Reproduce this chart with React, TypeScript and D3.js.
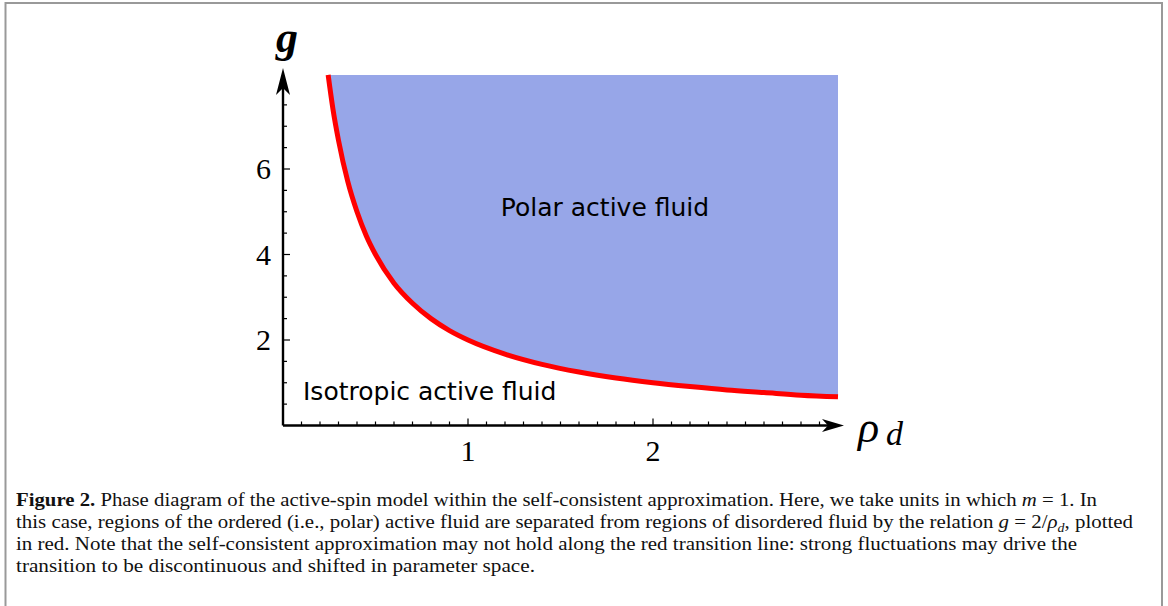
import React from "react";
import * as d3 from "d3";

const rhoValues = [0.244, 0.27, 0.3, 0.35, 0.4, 0.45, 0.5, 0.6, 0.7, 0.8, 0.9, 1.0, 1.2, 1.4, 1.6, 1.8, 2.0, 2.2, 2.4, 2.6, 2.8, 3.0];
const gValues = [8.2, 7.4, 6.67, 5.71, 5.0, 4.44, 4.0, 3.33, 2.86, 2.5, 2.22, 2.0, 1.67, 1.43, 1.25, 1.11, 1.0, 0.91, 0.83, 0.77, 0.71, 0.67];
const xTickLabels = [1, 2];
const yTickLabels = [2, 4, 6];
const gTop = 8.2;
const captionLines = [
  ["Figure 2.", " Phase diagram of the active-spin model within the self-consistent approximation. Here, we take units in which ", "m", " = 1. In"],
  ["", "this case, regions of the ordered (i.e., polar) active fluid are separated from regions of disordered fluid by the relation ", "g", " = 2/", "ρ", "d", ", plotted"],
  ["", "in red. Note that the self-consistent approximation may not hold along the red transition line: strong fluctuations may drive the"],
  ["", "transition to be discontinuous and shifted in parameter space."],
];

export default function App() {
  const x = d3.scaleLinear().domain([0, 1]).range([283, 468]);
  const y = d3.scaleLinear().domain([0, 2]).range([425.5, 340]);
  const pts = rhoValues.map((r, i) => [r, gValues[i]] as [number, number]);
  const line = d3.line<[number, number]>().x(d => x(d[0])).y(d => y(d[1])).curve(d3.curveMonotoneX);
  const area = d3.area<[number, number]>().x(d => x(d[0])).y0(y(gTop)).y1(d => y(d[1])).curve(d3.curveMonotoneX);
  const xMinor = d3.range(1, 30).map(i => i / 10);
  const yMinor = d3.range(1, 16).map(i => i / 2);
  const x0 = x(0), y0 = y(0);
  const serif = "'Liberation Serif', 'DejaVu Serif', serif";
  const sans = "'DejaVu Sans', Verdana, sans-serif";
  return (
    <svg width={1168} height={606} style={{ position: "absolute", left: 0, top: 0, background: "#fff" }}>
      <path d="M5.5,606 L5.5,3 L1162,3 L1162,606" fill="none" stroke="#999" strokeWidth={2} />
      <path d={area(pts) || ""} fill="#97a6e8" />
      {/* axes */}
      <line x1={x0} y1={y0} x2={x0} y2={80} stroke="#000" strokeWidth={2.4} />
      <line x1={x0} y1={y0} x2={832} y2={y0} stroke="#000" strokeWidth={2.4} />
      <path d={`M${x0},68 L${x0 + 7},95 L${x0},88 L${x0 - 7},95 Z`} fill="#000" />
      <path d={`M844,${y0} L822,${y0 - 6.5} L828,${y0} L822,${y0 + 6.5} Z`} fill="#000" />
      {xMinor.map(v => (
        <line key={"xm" + v} x1={x(v)} x2={x(v)} y1={y0} y2={y0 - (Math.abs(v - Math.round(v)) < 1e-6 ? 7 : 4)} stroke="#000" strokeWidth={1.2} />
      ))}
      {yMinor.map(v => (
        <line key={"ym" + v} y1={y(v)} y2={y(v)} x1={x0} x2={x0 + (v % 2 === 0 ? 7 : 4)} stroke="#000" strokeWidth={1.2} />
      ))}
      {xTickLabels.map(v => (
        <text key={"xl" + v} x={x(v)} y={461} textAnchor="middle" fontFamily={serif} fontSize={30}>{v}</text>
      ))}
      {yTickLabels.map(v => (
        <text key={"yl" + v} x={271} y={y(v) + 10} textAnchor="end" fontFamily={serif} fontSize={30}>{v}</text>
      ))}
      <path d={line(pts) || ""} fill="none" stroke="#ff0000" strokeWidth={5} />
      <text x={287} y={52} textAnchor="middle" fontFamily={serif} fontStyle="italic" fontWeight="bold" fontSize={44}>g</text>
      <text x={858} y={442} fontFamily={serif} fontStyle="italic" fontSize={44}>ρ</text>
      <text x={886} y={445} fontFamily={serif} fontStyle="italic" fontSize={34}>d</text>
      <text x={605} y={216} textAnchor="middle" fontFamily={sans} fontSize={25}>Polar active fluid</text>
      <text x={303} y={400} fontFamily={sans} fontSize={25}>Isotropic active fluid</text>
      <g fontFamily={serif} fontSize={19.5} fill="#111">
        <text x={16} y={506} textLength={1081} lengthAdjust="spacingAndGlyphs">
          <tspan fontWeight="bold">Figure 2.</tspan>
          <tspan>{captionLines[0][1]}</tspan>
          <tspan fontStyle="italic">m</tspan>
          <tspan>{captionLines[0][3]}</tspan>
        </text>
        <text x={16} y={528} textLength={1117} lengthAdjust="spacingAndGlyphs">
          <tspan>{captionLines[1][1]}</tspan>
          <tspan fontStyle="italic">g</tspan>
          <tspan>{captionLines[1][3]}</tspan>
          <tspan fontStyle="italic">ρ</tspan>
          <tspan fontStyle="italic" fontSize={13} dy={4}>d</tspan>
          <tspan dy={-4}>{captionLines[1][6]}</tspan>
        </text>
        <text x={16} y={550} textLength={1061} lengthAdjust="spacingAndGlyphs">{captionLines[2][1]}</text>
        <text x={16} y={572} textLength={519} lengthAdjust="spacingAndGlyphs">{captionLines[3][1]}</text>
      </g>
    </svg>
  );
}
